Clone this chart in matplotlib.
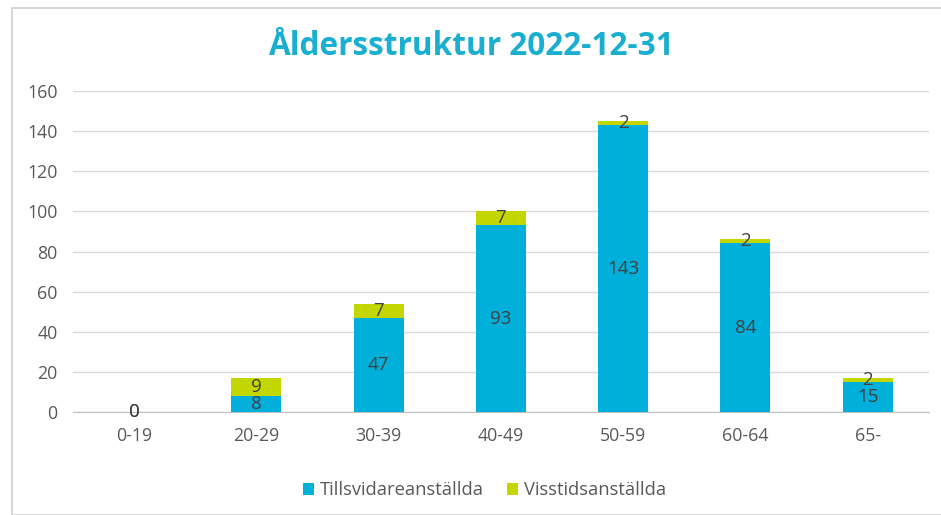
import numpy as np
import matplotlib.pyplot as plt
from matplotlib.patches import Rectangle

categories = ['0-19', '20-29', '30-39', '40-49', '50-59', '60-64', '65-']
tillsvidare = [0, 8, 47, 93, 143, 84, 15]
visstid = [0, 9, 7, 7, 2, 2, 2]
yticks = [0, 20, 40, 60, 80, 100, 120, 140, 160]

plt.rcParams['font.family'] = ['Open Sans', 'DejaVu Sans']

blue = '#00B0DA'
green = '#C4D600'
grey = '#595959'

fig = plt.figure(figsize=(9.41, 5.15), dpi=100)
ax = fig.add_axes([0.0776, 0.2, 0.9094, 0.6233])

# chart border
fig.patches.append(Rectangle((12 / 941, 0), 1, 1 - 8 / 515, transform=fig.transFigure,
                             fill=False, edgecolor='#D0D0D0', linewidth=1.2))

x = np.arange(len(categories))
w = 0.41
ax.bar(x, tillsvidare, w, color=blue, label='Tillsvidareanställda', zorder=3)
ax.bar(x, visstid, w, bottom=tillsvidare, color=green, label='Visstidsanställda', zorder=3)

for i in range(len(x)):
    ax.text(x[i], tillsvidare[i] / 2, str(tillsvidare[i]), ha='center', va='center',
            fontsize=13.5, color='#404040', zorder=4)
    ax.text(x[i], tillsvidare[i] + visstid[i] / 2, str(visstid[i]), ha='center', va='center',
            fontsize=13.5, color='#404040', zorder=4)

ax.set_xlim(-0.5, len(x) - 0.5)
ax.set_ylim(0, 160)
ax.set_yticks(yticks)
ax.set_xticks(x)
ax.set_xticklabels(categories)
ax.grid(axis='y', color='#D9D9D9', linewidth=1, zorder=0)
for s in ['top', 'right', 'left']:
    ax.spines[s].set_visible(False)
ax.spines['bottom'].set_color('#BFBFBF')
ax.tick_params(axis='both', length=0, labelsize=12.8, colors=grey)
ax.tick_params(axis='x', pad=11)
ax.tick_params(axis='y', pad=11)

fig.text(0.5, 0.91, 'Åldersstruktur 2022-12-31', ha='center', va='center',
         fontsize=22.7, fontweight='bold', color='#1AAFD0')

fig.legend(loc='center', bbox_to_anchor=(0.515, 0.048), ncol=2, frameon=False,
           fontsize=13.2, labelcolor=grey, handlelength=0.6, handleheight=0.6,
           handletextpad=0.3, columnspacing=1.3)

fig.savefig('out.png', dpi=100)
